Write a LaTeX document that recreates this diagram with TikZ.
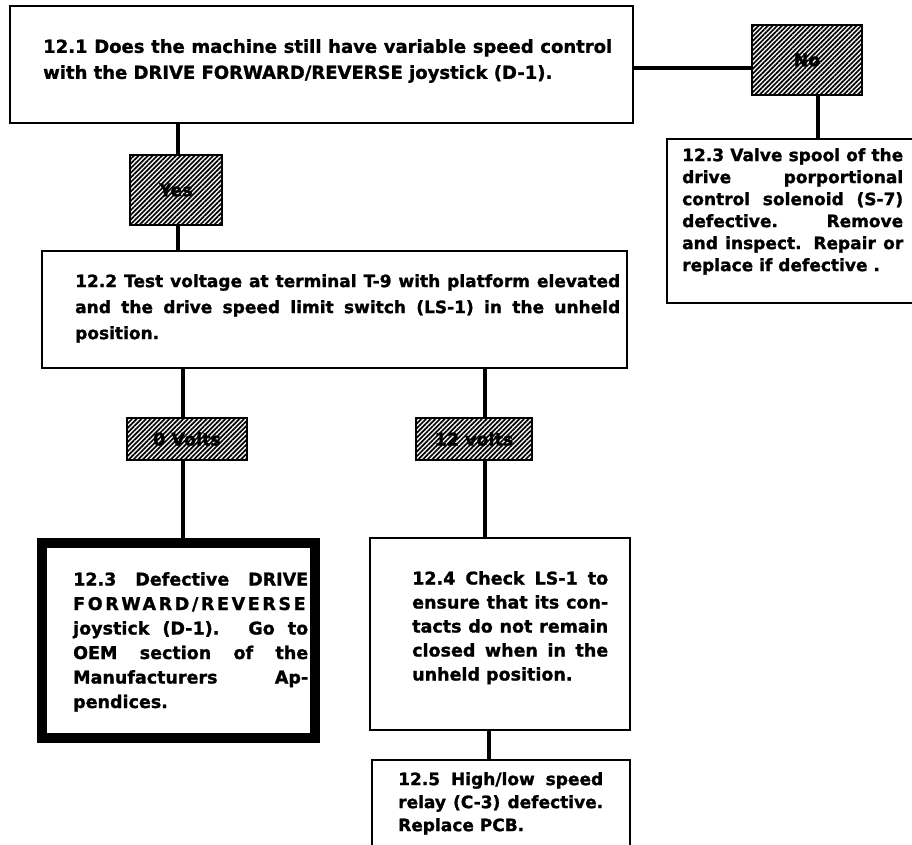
\documentclass[tikz,border=0pt]{standalone}
\usepackage{fontspec}
\setmainfont{DejaVu Sans}[BoldFeatures={FakeBold=1.3}]
\usetikzlibrary{patterns.meta}
\tikzset{
  box/.style={draw, line width=2pt, fill=white, inner sep=0pt},
  thickbox/.style={draw, line width=10pt, fill=white, inner sep=0pt},
  hbox/.style={draw, line width=2.6pt, inner sep=0pt,
    pattern={Lines[angle=45, distance=3.3pt, line width=1.7pt]}},
  conn/.style={line width=4pt},
  txt/.style={inner sep=0pt, anchor=north west, align=justify},
  lab/.style={inner sep=0pt, font=\bfseries\fontsize{17.5}{20}\selectfont}
}
\begin{document}
\begin{tikzpicture}[x=1pt,y=-1pt]
\path[use as bounding box, fill=white] (0,0) rectangle (912,845);
\clip (0,0) rectangle (912,845);
% connector x positions
\coordinate (xa) at (178,0);
\coordinate (xb) at (183,0);
\coordinate (xc) at (485,0);
\coordinate (xd) at (489,0);
\coordinate (xe) at (818,0);
\coordinate (ya) at (0,68);
% boxes
\node[box, minimum width=623pt, minimum height=117pt] (b1) at (321.5,64.5) {};
\node[hbox, minimum width=110pt, minimum height=70pt] (no) at (807,60) {};
\node[box, minimum width=268pt, minimum height=164pt] (r) at (801,221) {};
\node[hbox, minimum width=92pt, minimum height=70pt] (yes) at (176,190) {};
\node[box, minimum width=585pt, minimum height=117pt] (b2) at (334.5,309.5) {};
\node[hbox, minimum width=120pt, minimum height=42pt] (v0) at (187,439) {};
\node[hbox, minimum width=116pt, minimum height=42pt] (v12) at (474,439) {};
\node[thickbox, minimum width=273pt, minimum height=195pt] (b3) at (178.5,640.5) {};
\node[box, minimum width=260pt, minimum height=192pt] (b4) at (500,634) {};
\node[box, minimum width=258pt, minimum height=110pt] (b5) at (501,815) {};
% connectors
\draw[conn] (xa |- b1.south) -- (xa |- yes.north);
\draw[conn] (xa |- yes.south) -- (xa |- b2.north);
\draw[conn] (b1.east |- ya) -- (no.west |- ya);
\draw[conn] (xe |- no.south) -- (xe |- r.north);
\draw[conn] (xb |- b2.south) -- (xb |- v0.north);
\draw[conn] (xb |- v0.south) -- (xb |- b3.north);
\draw[conn] (xc |- b2.south) -- (xc |- v12.north);
\draw[conn] (xc |- v12.south) -- (xc |- b4.north);
\draw[conn] (xd |- b4.south) -- (xd |- b5.north);
% labels
\node[lab] (tno) at (no.center) {No};
\node[lab] (tyes) at (yes.center) {Yes};
\node[lab] (tv0) at (v0.center) {0 Volts};
\node[lab] (tv12) at (v12.center) {12 volts};
% texts
\node[txt, text width=569pt, font=\bfseries\fontsize{18}{26}\selectfont] (t1) at (43,39)
 {12.1 Does the machine still have variable speed control\linebreak with the DRIVE FORWARD/REVERSE joystick (D-1).};
\node[txt, text width=545pt, font=\bfseries\fontsize{17}{26}\selectfont] (t2) at (75,274)
 {12.2 Test voltage at terminal T-9 with platform elevated\linebreak and the drive speed limit switch (LS-1) in the unheld\linebreak position.};
\node[txt, text width=221pt, font=\bfseries\fontsize{17}{22}\selectfont] (tr) at (682,148)
 {12.3 Valve spool of the\linebreak drive porportional\linebreak control solenoid (S-7)\linebreak defective. Remove\linebreak and inspect. Repair or\linebreak replace if defective .};
\node[txt, text width=235pt, font=\bfseries\fontsize{17.5}{24.5}\selectfont] (t3) at (73,572)
 {12.3 Defective DRIVE\linebreak {\addfontfeatures{LetterSpace=15}FORWARD/REVERSE}\linebreak joystick (D-1). Go to\linebreak OEM section of the\linebreak Manufacturers Ap-\linebreak pendices.};
\node[txt, text width=196pt, font=\bfseries\fontsize{17.5}{24}\selectfont] (t4) at (412,571)
 {12.4 Check LS-1 to\linebreak ensure that its con-\linebreak tacts do not remain\linebreak closed when in the\linebreak unheld position.};
\node[txt, text width=205pt, font=\bfseries\fontsize{17}{23}\selectfont] (t5) at (398,772)
 {12.5 High/low speed\linebreak relay (C-3) defective.\linebreak Replace PCB.};
\end{tikzpicture}
\end{document}
